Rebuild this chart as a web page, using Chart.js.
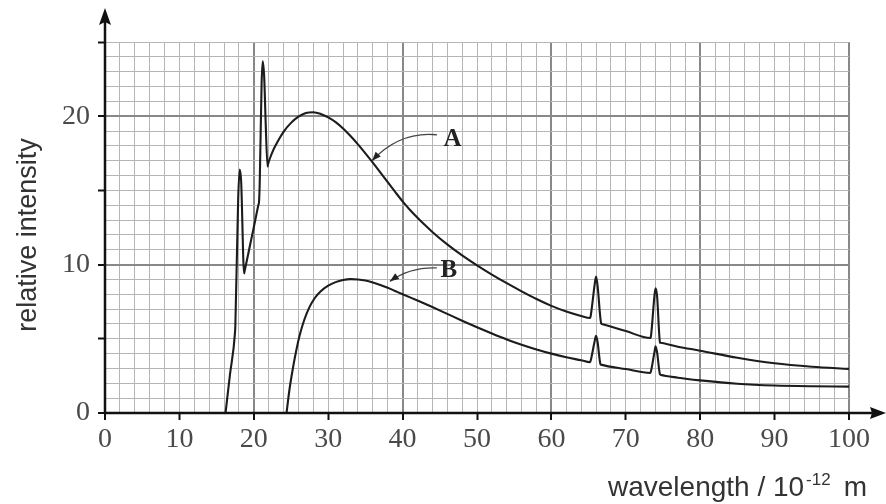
<!DOCTYPE html>
<html><head><meta charset="utf-8">
<script src="https://cdn.jsdelivr.net/npm/chart.js@4"></script>
<style>html,body{margin:0;padding:0;background:#fff;} canvas{display:block;}</style>
</head><body>
<canvas id="c" width="886" height="504"></canvas>
<script>
// ---- data ----
const wavelengthA = [16.2, 16.8, 17.47, 17.52, 17.9, 18.1, 18.3, 18.7, 18.76, 19.2, 19.7, 20.2, 20.65, 20.7, 20.8, 21.05, 21.2, 21.4, 21.6, 21.85, 21.9, 22.2, 22.6, 23, 23.5, 24, 25, 26, 27, 28, 29, 30, 31, 32, 33, 34, 35, 36, 37, 38, 39, 40, 41, 42, 43, 44, 46, 48, 50, 52, 54, 56, 58, 60, 62, 64, 65.2, 65.3, 65.8, 66.0, 66.2, 66.7, 66.75, 70, 73.3, 73.4, 73.85, 74.0, 74.2, 74.6, 74.65, 77, 80, 85, 90, 95, 100];
const intensityA  = [0, 2.6, 5.4, 5.9, 14.4, 16.4, 15.6, 9.4, 9.55, 10.6, 11.8, 13.0, 14.08, 14.2, 15.6, 22.2, 23.7, 22.6, 19.5, 16.6, 16.75, 17.2, 17.7, 18.1, 18.55, 18.95, 19.55, 19.97, 20.22, 20.27, 20.15, 19.92, 19.6, 19.17, 18.66, 18.1, 17.5, 16.87, 16.22, 15.56, 14.9, 14.26, 13.68, 13.16, 12.67, 12.2, 11.36, 10.62, 9.95, 9.33, 8.75, 8.2, 7.68, 7.22, 6.84, 6.54, 6.4, 6.6, 8.6, 9.2, 8.6, 6.02, 6.0, 5.52, 5.05, 5.25, 7.9, 8.4, 7.9, 4.75, 4.73, 4.47, 4.2, 3.72, 3.35, 3.12, 2.97];
const wavelengthB = [24.4, 24.8, 25.3, 25.7, 26.2, 26.8, 27.5, 28.2, 29, 30, 31, 32, 33, 34, 35, 36, 37, 38, 39, 40, 42, 44, 46, 48, 50, 52, 54, 56, 58, 60, 62, 64, 65.2, 65.3, 65.8, 66.0, 66.2, 66.6, 66.65, 70, 73.3, 73.4, 73.85, 74.0, 74.2, 74.6, 74.65, 77, 80, 85, 90, 95, 100];
const intensityB  = [0, 1.6, 3.14, 4.2, 5.3, 6.3, 7.15, 7.75, 8.2, 8.58, 8.82, 8.96, 9.02, 9.0, 8.93, 8.8, 8.63, 8.44, 8.22, 8.0, 7.58, 7.14, 6.68, 6.22, 5.78, 5.36, 4.96, 4.6, 4.28, 4.0, 3.76, 3.55, 3.42, 3.57, 4.8, 5.2, 4.8, 3.28, 3.26, 2.96, 2.7, 2.85, 4.1, 4.5, 4.1, 2.6, 2.58, 2.38, 2.2, 1.97, 1.85, 1.8, 1.78];
const xTickLabels = [0, 10, 20, 30, 40, 50, 60, 70, 80, 90, 100];
const yTickLabels = [0, 10, 20];
const curveNames = ['A', 'B'];
const xTitle = 'wavelength / 10';
const xTitleSup = '-12';
const xTitleUnit = 'm';
const yTitle = 'relative intensity';

// annotation placement in data coordinates
const annot = {
  A: { label: [46.7, 18.5], from: [44.6, 18.75], ctrl: [39.6, 19.0], tip: [35.9, 17.0] },
  B: { label: [46.2, 9.65], from: [44.6, 9.78],  ctrl: [41.0, 9.85], tip: [38.3, 8.87] }
};

const pts = (xs, ys) => xs.map((x, i) => ({ x: x, y: ys[i] }));

const decor = {
  id: 'decor',
  beforeDraw(chart) {
    const c = chart.ctx;
    c.save(); c.fillStyle = '#fff'; c.fillRect(0, 0, chart.width, chart.height); c.restore();
  },
  afterDatasetsDraw(chart) {
    const c = chart.ctx, xs = chart.scales.x, ys = chart.scales.y;
    const X = v => xs.getPixelForValue(v), Y = v => ys.getPixelForValue(v);
    c.save();
    // axes with arrows
    const x0 = X(0), y0 = Y(0);
    c.strokeStyle = '#111'; c.fillStyle = '#111'; c.lineWidth = 2.5;
    c.beginPath(); c.moveTo(x0, y0); c.lineTo(878, y0); c.stroke();
    c.beginPath(); c.moveTo(x0, y0); c.lineTo(x0, 20); c.stroke();
    c.beginPath(); c.moveTo(886, y0); c.lineTo(870, y0 - 6); c.lineTo(872, y0); c.lineTo(870, y0 + 6); c.closePath(); c.fill();
    c.beginPath(); c.moveTo(x0, 8); c.lineTo(x0 - 6, 25); c.lineTo(x0, 22); c.lineTo(x0 + 6, 25); c.closePath(); c.fill();
    // annotations
    curveNames.forEach(n => {
      const a = annot[n];
      const fx = X(a.from[0]), fy = Y(a.from[1]);
      const cx = X(a.ctrl[0]), cy = Y(a.ctrl[1]);
      const tx = X(a.tip[0]), ty = Y(a.tip[1]);
      c.lineWidth = 1.3; c.strokeStyle = '#444';
      c.beginPath(); c.moveTo(fx, fy); c.quadraticCurveTo(cx, cy, tx, ty); c.stroke();
      const ang = Math.atan2(ty - cy, tx - cx);
      c.fillStyle = '#222';
      c.beginPath();
      c.moveTo(tx, ty);
      c.lineTo(tx - 9 * Math.cos(ang) + 3.5 * Math.sin(ang), ty - 9 * Math.sin(ang) - 3.5 * Math.cos(ang));
      c.lineTo(tx - 9 * Math.cos(ang) - 3.5 * Math.sin(ang), ty - 9 * Math.sin(ang) + 3.5 * Math.cos(ang));
      c.closePath(); c.fill();
      c.font = 'bold 25px "Liberation Serif", serif';
      c.fillStyle = '#222'; c.textAlign = 'center'; c.textBaseline = 'middle';
      c.fillText(n, X(a.label[0]), Y(a.label[1]) + 1);
    });
    // axis titles
    c.fillStyle = '#333'; c.textBaseline = 'alphabetic';
    c.font = '27px "Liberation Sans", Arial, sans-serif';
    c.save(); c.translate(36, 235); c.rotate(-Math.PI / 2); c.textAlign = 'center'; c.fillText(yTitle, 0, 0); c.restore();
    const right = 867, base = 496, mainFont = '28px "Liberation Sans", Arial, sans-serif', supFont = '17px "Liberation Sans", Arial, sans-serif';
    c.textAlign = 'left';
    c.font = mainFont;
    const wUnit = c.measureText(xTitleUnit).width;
    const wMain = c.measureText(xTitle).width;
    c.font = supFont;
    const wSup = c.measureText(xTitleSup).width;
    const gap = 13;
    const start = right - wUnit - gap - wSup - wMain - 2;
    c.font = mainFont;
    c.fillText(xTitle, start, base);
    c.fillText(xTitleUnit, start + wMain + 2 + wSup + gap, base);
    c.font = supFont;
    c.fillText(xTitleSup, start + wMain + 2, base - 11);
    c.restore();
  }
};

new Chart(document.getElementById('c'), {
  type: 'line',
  data: {
    datasets: [
      { label: curveNames[0], data: pts(wavelengthA, intensityA) },
      { label: curveNames[1], data: pts(wavelengthB, intensityB) }
    ]
  },
  options: {
    responsive: false,
    animation: false,
    layout: { padding: { top: 42, right: 37, left: 0, bottom: 0 } },
    elements: {
      line: { borderColor: '#1c1c1c', borderWidth: 2.1, cubicInterpolationMode: 'monotone', fill: false, borderJoinStyle: 'round' },
      point: { radius: 0 }
    },
    plugins: { legend: { display: false }, tooltip: { enabled: false } },
    scales: {
      x: {
        type: 'linear', min: 0, max: 100,
        border: { display: false },
        afterFit(s) { s.height = 91; },
        grid: {
          color: c => c.tick.value === 0 ? 'rgba(0,0,0,0)' : (c.tick.value % 20 === 0 ? '#888' : '#b5b5b5'),
          lineWidth: c => c.tick.value % 20 === 0 ? 2 : 1,
          tickColor: c => xTickLabels.includes(c.tick.value) ? '#111' : 'rgba(0,0,0,0)',
          tickLength: 7, tickWidth: 2
        },
        ticks: {
          stepSize: 2, autoSkip: false, maxRotation: 0, padding: 3,
          color: '#4a4a4a', font: { family: '"Liberation Serif", serif', size: 28 },
          callback: v => xTickLabels.includes(v) ? String(v) : ''
        }
      },
      y: {
        type: 'linear', min: 0, max: 25,
        border: { display: false },
        afterFit(s) { s.width = 105; },
        grid: {
          color: c => c.tick.value === 0 ? 'rgba(0,0,0,0)' : (c.tick.value % 10 === 0 ? '#888' : '#b5b5b5'),
          lineWidth: c => c.tick.value % 10 === 0 ? 2 : 1,
          tickColor: c => c.tick.value % 5 === 0 ? '#111' : 'rgba(0,0,0,0)',
          tickLength: 7, tickWidth: 2
        },
        ticks: {
          stepSize: 1, autoSkip: false, padding: 8,
          color: '#4a4a4a', font: { family: '"Liberation Serif", serif', size: 28 },
          callback: v => yTickLabels.includes(v) ? String(v) : ''
        }
      }
    }
  },
  plugins: [decor]
});
</script>
</body></html>
